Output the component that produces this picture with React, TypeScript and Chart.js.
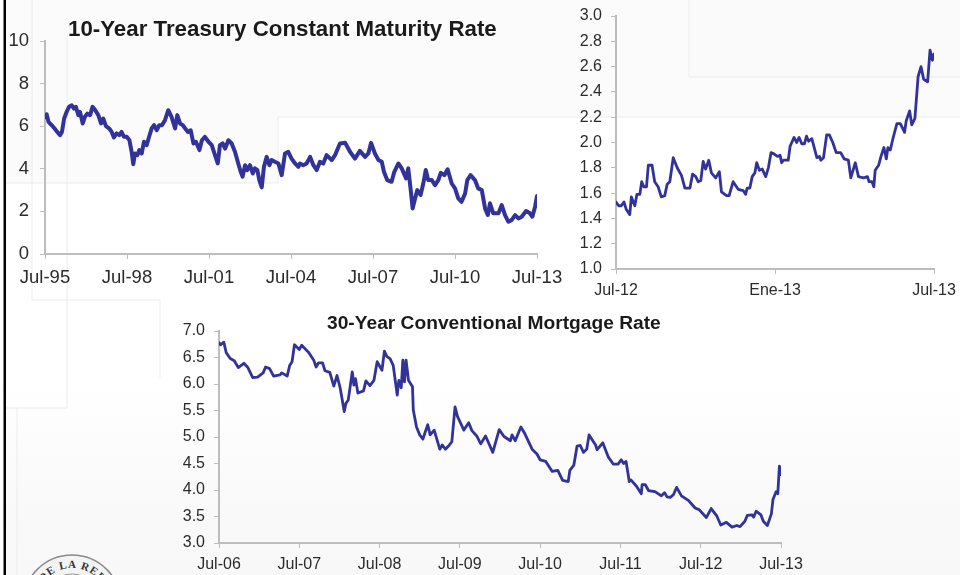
import React, { useEffect, useRef } from "react";
import { Chart, registerables } from "chart.js";

Chart.register(...registerables);

const LINE_COLOR = "#32329b";
const AXIS_COLOR = "#bdbdbd";
const TEXT_COLOR = "#2b2b2b";
const FONT = "'Liberation Sans', Arial, sans-serif";

// 10-Year Treasury: years since Jul-95, rate in %
const treasuryYears = [0,.06,.13,.21,.28,.35,.45,.55,.62,.70,.79,.88,.98,1.06,1.13,1.22,1.28,1.38,1.46,1.55,1.65,1.74,1.84,1.95,2.05,2.13,2.23,2.35,2.44,2.52,2.62,2.72,2.80,2.89,2.99,3.09,3.17,3.23,3.29,3.38,3.45,3.54,3.62,3.72,3.80,3.90,3.99,4.09,4.18,4.28,4.39,4.51,4.63,4.76,4.84,4.94,5.04,5.13,5.23,5.33,5.43,5.52,5.65,5.74,5.85,5.98,6.10,6.22,6.32,6.40,6.50,6.59,6.71,6.83,6.95,7.07,7.16,7.23,7.32,7.40,7.50,7.60,7.68,7.77,7.84,7.93,8.01,8.11,8.21,8.29,8.41,8.54,8.66,8.78,8.90,9.02,9.15,9.27,9.33,9.45,9.57,9.70,9.82,9.94,10.06,10.18,10.30,10.49,10.61,10.79,10.98,11.16,11.34,11.52,11.71,11.83,11.93,12.07,12.20,12.32,12.40,12.52,12.68,12.78,12.93,13.05,13.21,13.29,13.38,13.45,13.54,13.62,13.74,13.84,13.93,14.02,14.15,14.27,14.39,14.48,14.61,14.73,14.88,15.0,15.12,15.24,15.37,15.45,15.57,15.73,15.85,15.98,16.10,16.20,16.28,16.40,16.59,16.71,16.83,16.95,17.07,17.20,17.32,17.44,17.60,17.74,17.83,17.93,18.0];
const treasuryRates = [6.44,6.56,6.20,6.09,6.0,5.89,5.73,5.58,5.73,6.36,6.67,6.91,6.98,6.83,6.91,6.52,6.67,6.13,6.44,6.59,6.52,6.91,6.75,6.52,6.13,6.36,6.0,5.89,5.73,5.47,5.66,5.58,5.73,5.5,5.5,5.34,4.80,4.22,4.72,4.64,4.88,4.72,5.27,5.11,5.47,5.89,6.05,5.81,6.05,6.05,6.28,6.75,6.44,5.89,6.52,6.13,6.05,5.89,5.73,5.81,5.19,5.27,4.88,5.34,5.5,5.27,5.11,4.64,4.25,5.11,5.19,4.95,5.34,5.19,4.80,4.25,3.86,3.63,4.17,3.94,4.17,3.78,4.02,3.94,3.47,3.13,4.09,4.56,4.17,4.41,4.33,4.25,3.70,4.72,4.80,4.48,4.25,4.09,4.25,4.17,4.25,4.56,4.17,3.94,4.33,4.25,4.64,4.41,4.64,5.19,5.22,4.80,4.48,4.84,4.56,4.72,5.22,4.72,4.41,4.33,3.86,3.47,3.39,3.86,4.25,4.02,3.55,4.02,3.0,2.14,2.61,3.0,2.77,3.31,3.94,3.47,3.47,3.23,3.47,3.81,3.70,3.98,3.31,3.08,2.61,2.45,2.84,3.47,3.70,3.47,3.08,3.0,2.14,1.83,2.38,1.91,1.91,2.30,1.83,1.52,1.59,1.83,1.67,1.75,2.02,1.91,1.75,2.22,2.72];
const treasuryTicks = ["Jul-95","Jul-98","Jul-01","Jul-04","Jul-07","Jul-10","Jul-13"];

// Last year zoom: months since Jul-12, rate in %
const zoomMonths = [0,.10,.20,.30,.39,.52,.58,.71,.79,.90,.97,1.05,1.15,1.22,1.36,1.46,1.59,1.71,1.84,1.93,2.03,2.16,2.31,2.47,2.60,2.79,2.89,3.01,3.10,3.20,3.29,3.38,3.50,3.60,3.76,3.90,3.98,4.17,4.27,4.42,4.61,4.80,4.89,4.95,5.05,5.14,5.24,5.31,5.41,5.52,5.65,5.75,5.85,5.96,6.09,6.19,6.25,6.32,6.50,6.57,6.72,6.82,6.91,7.01,7.11,7.19,7.27,7.39,7.58,7.68,7.73,7.83,7.95,8.05,8.18,8.31,8.48,8.61,8.77,8.86,9.03,9.15,9.34,9.49,9.55,9.66,9.73,9.78,9.91,10.0,10.11,10.20,10.26,10.35,10.45,10.60,10.73,10.89,10.95,11.08,11.16,11.28,11.40,11.51,11.61,11.76,11.85,11.94,12.0];
const zoomRates = [1.53,1.50,1.50,1.53,1.47,1.43,1.57,1.50,1.59,1.59,1.69,1.65,1.65,1.82,1.82,1.69,1.65,1.57,1.58,1.67,1.69,1.88,1.80,1.74,1.64,1.64,1.75,1.73,1.69,1.70,1.85,1.79,1.86,1.76,1.72,1.77,1.61,1.58,1.58,1.69,1.63,1.62,1.59,1.64,1.64,1.73,1.76,1.84,1.78,1.79,1.73,1.80,1.92,1.91,1.89,1.90,1.84,1.86,1.86,1.97,2.04,2.00,2.04,1.99,1.99,2.05,2.01,2.03,1.88,1.89,1.86,1.88,2.06,2.06,2.0,1.92,1.92,1.87,1.86,1.72,1.84,1.73,1.72,1.73,1.69,1.69,1.65,1.78,1.82,1.89,1.96,1.87,1.96,1.94,2.03,2.15,2.15,2.08,2.17,2.25,2.14,2.19,2.52,2.60,2.50,2.48,2.73,2.65,2.70];
const zoomTicks = ["Jul-12","Ene-13","Jul-13"];

// 30-Year mortgage: years since Jul-06, rate in %
const mortgageYears = [0,.02,.06,.09,.14,.19,.24,.31,.36,.42,.48,.55,.58,.63,.68,.76,.78,.85,.88,.91,.94,1.0,1.03,1.12,1.18,1.21,1.24,1.29,1.32,1.38,1.43,1.47,1.51,1.56,1.58,1.61,1.66,1.68,1.70,1.73,1.80,1.83,1.88,1.93,1.97,2.03,2.06,2.09,2.13,2.17,2.22,2.24,2.27,2.29,2.31,2.33,2.36,2.41,2.42,2.46,2.50,2.54,2.57,2.60,2.63,2.68,2.75,2.78,2.82,2.87,2.90,2.94,2.97,3.05,3.11,3.15,3.21,3.26,3.32,3.41,3.49,3.55,3.63,3.65,3.69,3.76,3.81,3.90,3.96,4.0,4.07,4.15,4.22,4.28,4.35,4.37,4.42,4.46,4.50,4.54,4.58,4.61,4.69,4.71,4.78,4.85,4.91,4.97,5.01,5.04,5.07,5.11,5.13,5.20,5.26,5.27,5.31,5.35,5.43,5.51,5.55,5.58,5.62,5.66,5.70,5.76,5.85,5.93,5.98,6.07,6.13,6.20,6.25,6.32,6.39,6.45,6.49,6.55,6.58,6.64,6.66,6.69,6.75,6.78,6.83,6.88,6.90,6.94,6.96,6.98,7.0];
const mortgageRates = [6.78,6.74,6.79,6.59,6.48,6.44,6.31,6.39,6.31,6.12,6.13,6.21,6.32,6.29,6.15,6.17,6.21,6.15,6.35,6.42,6.74,6.65,6.73,6.59,6.45,6.32,6.40,6.40,6.25,6.22,5.96,6.16,5.92,5.48,5.63,5.70,6.23,5.98,6.10,5.83,5.87,6.06,5.97,6.07,6.42,6.26,6.62,6.52,6.48,6.35,5.79,6.07,5.93,6.45,6.04,6.45,6.07,5.95,5.51,5.19,5.04,4.96,5.10,5.23,5.04,5.13,4.77,4.85,4.77,4.85,4.91,5.57,5.39,5.13,5.27,5.12,5.02,4.87,5.02,4.71,5.14,5.01,4.93,5.04,4.93,5.19,5.06,4.77,4.68,4.57,4.54,4.35,4.37,4.18,4.16,4.37,4.47,4.83,4.84,4.71,4.77,5.04,4.85,4.76,4.89,4.62,4.49,4.49,4.57,4.50,4.54,4.16,4.19,4.07,3.93,4.10,4.10,3.99,3.97,3.89,3.95,3.87,3.86,3.91,4.05,3.89,3.80,3.66,3.63,3.48,3.65,3.51,3.34,3.39,3.30,3.33,3.31,3.41,3.52,3.53,3.49,3.60,3.53,3.41,3.33,3.55,3.82,3.97,3.93,4.45,4.29];
const mortgageTicks = ["Jul-06","Jul-07","Jul-08","Jul-09","Jul-10","Jul-11","Jul-12","Jul-13"];

type Spec = {
  xs: number[]; ys: number[]; ticks: string[]; xStep: number;
  yMin: number; yMax: number; yStep: number; yDigits: number;
  left: number; top: number; width: number; height: number;
  axisLeft: number; axisBottom: number; padTop: number; padRight: number;
  fontSize: number; lineWidth: number; labelPad: number; yLabelPad: number;
};

const specs: Spec[] = [
  { xs: treasuryYears, ys: treasuryRates, ticks: treasuryTicks, xStep: 3, yMin: 0, yMax: 10, yStep: 2, yDigits: 0,
    left: 0, top: 0, width: 577, height: 300, axisLeft: 45, axisBottom: 46, padTop: 41, padRight: 40,
    fontSize: 18.5, lineWidth: 4, labelPad: 8, yLabelPad: 11 },
  { xs: zoomMonths, ys: zoomRates, ticks: zoomTicks, xStep: 6, yMin: 1, yMax: 3, yStep: 0.2, yDigits: 1,
    left: 566, top: -10, width: 404, height: 315, axisLeft: 50, axisBottom: 36, padTop: 26, padRight: 36,
    fontSize: 16, lineWidth: 2.8, labelPad: 7, yLabelPad: 9 },
  { xs: mortgageYears, ys: mortgageRates, ticks: mortgageTicks, xStep: 1, yMin: 3, yMax: 7, yStep: 0.5, yDigits: 1,
    left: 170, top: 300, width: 650, height: 275, axisLeft: 49, axisBottom: 32, padTop: 31, padRight: 39,
    fontSize: 16, lineWidth: 2.8, labelPad: 7, yLabelPad: 9 },
];

function MiniChart({ spec }: { spec: Spec }) {
  const ref = useRef<HTMLCanvasElement>(null);
  useEffect(() => {
    const xMax = spec.xStep * (spec.ticks.length - 1);
    const chart = new Chart(ref.current!, {
      type: "line",
      data: {
        datasets: [{
          data: spec.xs.map((x, i) => ({ x, y: spec.ys[i] })),
          borderColor: LINE_COLOR, borderWidth: spec.lineWidth, pointRadius: 0, tension: 0,
          borderJoinStyle: "round", borderCapStyle: "round",
        }],
      },
      options: {
        animation: false, responsive: false, maintainAspectRatio: false,
        layout: { autoPadding: false, padding: { left: 0, top: spec.padTop, right: spec.padRight, bottom: 0 } },
        plugins: { legend: { display: false }, tooltip: { enabled: false }, title: { display: false } },
        scales: {
          x: {
            type: "linear", min: 0, max: xMax,
            afterFit: (s: any) => { s.height = spec.axisBottom; },
            border: { display: true, color: AXIS_COLOR, width: 2 },
            grid: { display: true, drawOnChartArea: false, drawTicks: true, tickLength: 5, color: AXIS_COLOR },
            ticks: {
              stepSize: spec.xStep, maxRotation: 0, autoSkip: false, padding: spec.labelPad, color: TEXT_COLOR,
              font: { family: FONT, size: spec.fontSize },
              callback: (v: any) => spec.ticks[Math.round(Number(v) / spec.xStep)] ?? "",
            },
          },
          y: {
            type: "linear", min: spec.yMin, max: spec.yMax,
            afterFit: (s: any) => { s.width = spec.axisLeft; },
            border: { display: true, color: AXIS_COLOR, width: 2 },
            grid: { display: true, drawOnChartArea: false, drawTicks: true, tickLength: 5, color: AXIS_COLOR },
            ticks: {
              stepSize: spec.yStep, padding: spec.yLabelPad, color: TEXT_COLOR, autoSkip: false,
              font: { family: FONT, size: spec.fontSize },
              callback: (v: any) => Number(v).toFixed(spec.yDigits),
            },
          },
        },
      },
    });
    return () => chart.destroy();
  }, [spec]);
  return (
    <canvas
      ref={ref}
      width={spec.width}
      height={spec.height}
      style={{ position: "absolute", left: spec.left, top: spec.top, width: spec.width, height: spec.height }}
    />
  );
}

const titleStyle: React.CSSProperties = {
  position: "absolute", fontFamily: FONT, fontWeight: 700, color: "#1a1a1a", whiteSpace: "nowrap", lineHeight: 1,
};

export default function App() {
  return (
    <div style={{ position: "fixed", left: 0, top: 0, width: 960, height: 575, overflow: "hidden", background: "#fff" }}>
      <svg width={960} height={575} style={{ position: "absolute", left: 0, top: 0 }}>
        <defs>
          <linearGradient id="fade" x1="0" y1="0" x2="0" y2="1">
            <stop offset="0" stopColor="#fff" />
            <stop offset="0.55" stopColor="#fafafa" />
            <stop offset="1" stopColor="#f8f8f8" />
          </linearGradient>
          <path id="sealArc" d="M 36 604 A 36 36 0 0 1 108 604" fill="none" />
        </defs>
        <polygon points="6,0 960,0 960,117 278,117 278,183 6,183" fill="#fbfbfb" />
        <polygon points="689,0 960,0 960,77 689,77" fill="#fafafa" />
        <rect x={6} y={380} width={954} height={195} fill="url(#fade)" />
        <g stroke="#ececec" strokeWidth={1} fill="none">
          <path d="M6 183H278V117H960" />
          <path d="M689 0V77H960" />
          <path d="M32 0V300H160V378" />
          <path d="M67 35V408H6" />
          <path d="M17 408V575" />
        </g>
        <rect x={3.5} y={0} width={2.5} height={575} fill="#000" />
        <circle cx={72} cy={604} r={49} fill="#f4f4f4" stroke="#8a8a8a" strokeWidth={1.5} />
        <circle cx={72} cy={604} r={30} fill="none" stroke="#9a9a9a" strokeWidth={1} />
        <text fontFamily="'Liberation Serif', serif" fontSize={11} fontWeight={700} fill="#333" letterSpacing={1}>
          <textPath href="#sealArc" startOffset="50%" textAnchor="middle">DE LA REP</textPath>
        </text>
      </svg>
      {specs.map((s, i) => <MiniChart key={i} spec={s} />)}
      <div style={{ ...titleStyle, left: 68, top: 18, fontSize: 22.3 }}>10-Year Treasury Constant Maturity Rate</div>
      <div style={{ ...titleStyle, left: 327, top: 313, fontSize: 19.2 }}>30-Year Conventional Mortgage Rate</div>
    </div>
  );
}
